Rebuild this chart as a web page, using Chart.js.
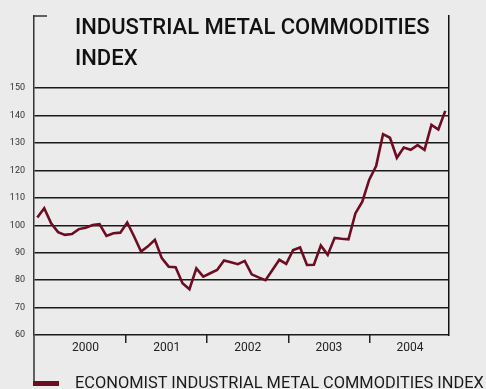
<!DOCTYPE html>
<html>
<head>
<meta charset="utf-8">
<script src="https://cdn.jsdelivr.net/npm/chart.js@4/dist/chart.umd.min.js"></script>
<style>
  html, body { margin: 0; padding: 0; background: #ebebeb; overflow: hidden; }
  #wrap { position: relative; width: 486px; height: 389px; }
  #chart { position: absolute; left: 0; top: 0; }
  .title {
    position: absolute; left: 75px; top: 10.6px;
    font-family: Roboto, "DejaVu Sans", sans-serif; font-size: 22px; font-weight: 500; line-height: 31.7px;
    color: #111; white-space: nowrap;
  }
  .legend {
    position: absolute; left: 75px; top: 375px;
    font-family: Roboto, "DejaVu Sans", sans-serif; font-size: 16.4px; line-height: 16px;
    color: #1a1a1a; white-space: nowrap;
  }
  .swatch { position: absolute; left: 33px; top: 381px; width: 26px; height: 5px; background: #6e0c22; }
</style>
</head>
<body>
<div id="wrap">
  <canvas id="chart" width="486" height="389"></canvas>
  <div class="title">INDUSTRIAL METAL COMMODITIES<br>INDEX</div>
  <div class="swatch"></div>
  <div class="legend">ECONOMIST INDUSTRIAL METAL COMMODITIES INDEX</div>
</div>
<script>
// Monthly index values, January 2000 to December 2004
const years = ['2000', '2001', '2002', '2003', '2004'];
const indexValues = [
  102.8, 106.2, 100.7, 97.5, 96.5, 96.8, 98.6, 99.1, 100.1, 100.4, 96.1, 97.1,
  97.3, 101.0, 95.9, 90.4, 92.3, 94.7, 88.0, 84.9, 84.7, 78.9, 76.7, 84.3,
  81.3, 82.5, 83.7, 87.2, 86.5, 85.8, 87.0, 82.1, 81.0, 80.0, 83.7, 87.4,
  85.9, 91.0, 91.9, 85.5, 85.6, 92.6, 89.2, 95.4, 95.1, 94.9, 104.3, 108.6,
  116.6, 121.6, 133.2, 131.9, 124.6, 128.3, 127.5, 129.2, 127.5, 136.6, 134.9, 141.7
];
const yTicks = [60, 70, 80, 90, 100, 110, 120, 130, 140, 150];
const yearCentres = [0.5, 1.5, 2.5, 3.5, 4.5];

const LINE = '#6e0c22';
const INK = '#1a1a1a';

const points = indexValues.map((v, i) => ({ x: i, y: v }));

// Short cap at the top of the left axis, and the axis carried down to the legend key
const frameExtras = {
  id: 'frameExtras',
  afterDraw(chart) {
    const { ctx, chartArea } = chart;
    ctx.save();
    ctx.strokeStyle = '#333';
    ctx.lineWidth = 1.5;
    ctx.beginPath();
    ctx.moveTo(chartArea.left, chartArea.bottom);
    ctx.lineTo(chartArea.left, chart.height - 3);
    ctx.moveTo(chartArea.left - 0.75, chartArea.top);
    ctx.lineTo(chartArea.left + 13, chartArea.top);
    ctx.stroke();
    ctx.restore();
  }
};

new Chart(document.getElementById('chart'), {
  type: 'line',
  data: {
    datasets: [{
      label: 'ECONOMIST INDUSTRIAL METAL COMMODITIES INDEX',
      data: points,
      borderColor: LINE,
      borderWidth: 2.6,
      pointRadius: 0,
      tension: 0,
      xAxisID: 'x',
      yAxisID: 'y'
    }]
  },
  options: {
    responsive: false,
    animation: false,
    devicePixelRatio: 1,
    layout: { padding: { top: 16, left: 0, right: 0, bottom: 0 } },
    plugins: { legend: { display: false }, title: { display: false }, tooltip: { enabled: false } },
    scales: {
      x: { type: 'linear', min: -0.48, max: 59.54, display: false },
      year: {
        type: 'linear', position: 'bottom', min: -0.1356, max: 4.981,
        afterBuildTicks: s => { s.ticks = yearCentres.map(v => ({ value: v })); },
        afterFit: s => { s.height = 54; },
        ticks: {
          autoSkip: false, maxRotation: 0, padding: -2,
          font: { family: 'Roboto', size: 12 }, color: '#222',
          callback: (v, i) => years[i]
        },
        grid: {
          offset: true, drawOnChartArea: false, tickLength: 8, lineWidth: 1.5,
          color: c => (c.index === 0 ? 'rgba(0,0,0,0)' : '#222')
        },
        border: { display: false }
      },
      y: {
        type: 'linear', position: 'left', min: 60, max: 176.27,
        afterBuildTicks: s => { s.ticks = yTicks.map(v => ({ value: v })); },
        afterFit: s => { s.width = 34; },
        ticks: { padding: 9, font: { family: 'Roboto', size: 9 }, color: '#333' },
        grid: { drawTicks: false, color: INK, lineWidth: 1.5 },
        border: { display: true, color: '#333', width: 1.5 }
      },
      yRight: {
        type: 'linear', position: 'right', min: 60, max: 176.27,
        afterFit: s => { s.width = 37; },
        ticks: { display: false },
        grid: { display: false },
        border: { display: true, color: '#111', width: 1.5 }
      }
    }
  },
  plugins: [frameExtras]
});
</script>
</body>
</html>
